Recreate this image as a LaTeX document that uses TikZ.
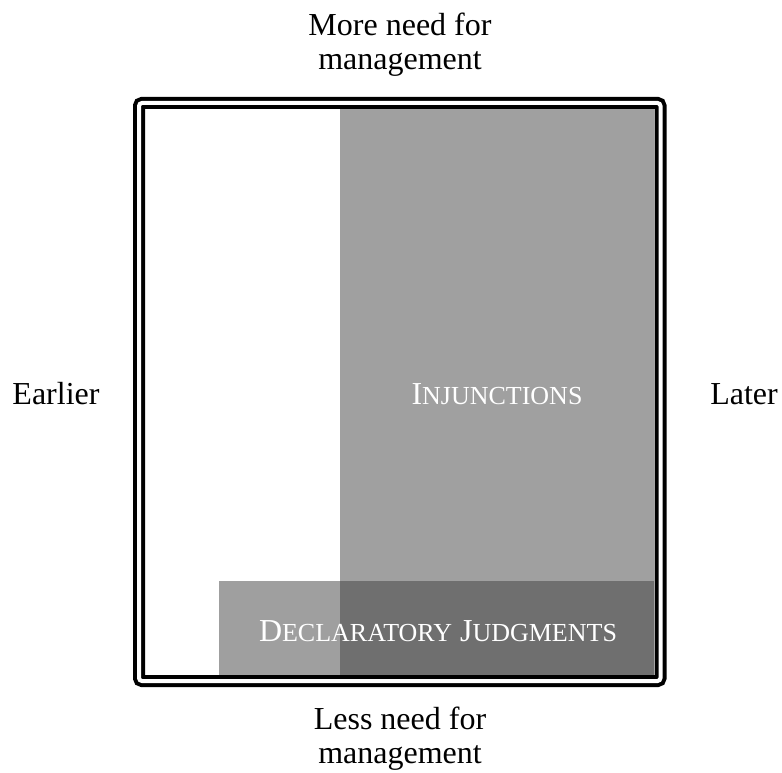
\documentclass[tikz,border=0pt]{standalone}
\usepackage{fontspec}
\setmainfont{Liberation Serif}
\definecolor{injgray}{RGB}{160,160,160}
\definecolor{decgray}{RGB}{63,63,63}
\newcommand{\fakesc}[2]{#1{\fontsize{26}{28}\selectfont #2}}

\begin{document}
\begin{tikzpicture}[x=1pt,y=-1pt,
        axislabel/.style={
            font=\fontsize{32}{34}\selectfont,
            align=center
        },
        region/.style={
            font=\fontsize{32}{34}\selectfont,
            text=white
        }
    ]
    \useasboundingbox (0,0) rectangle (782,773);

    % shaded areas
    \fill[injgray] (340,109) rectangle (654,677);
    \fill[decgray, fill opacity=0.5] (219,581) rectangle (654,677);

    % frame
    \draw[line width=4pt, double distance=4pt, rounded corners=3pt] (139,103) rectangle (660.5,681);

    \node[region, anchor=base] (injunctions) at (497,404) {\fakesc{I}{NJUNCTIONS}};
    \node[region] (declaratory) at (438,631) {\fakesc{D}{ECLARATORY} \fakesc{J}{UDGMENTS}};

    \node[axislabel] (more) at (400,45) {More need for\\management};
    \node[axislabel] (less) at (400,739) {Less need for\\management};
    \node[axislabel, anchor=base] (earlier) at (56,404) {Earlier};
    \node[axislabel, anchor=base] (later) at (744,404) {Later};

\end{tikzpicture}
\end{document}
